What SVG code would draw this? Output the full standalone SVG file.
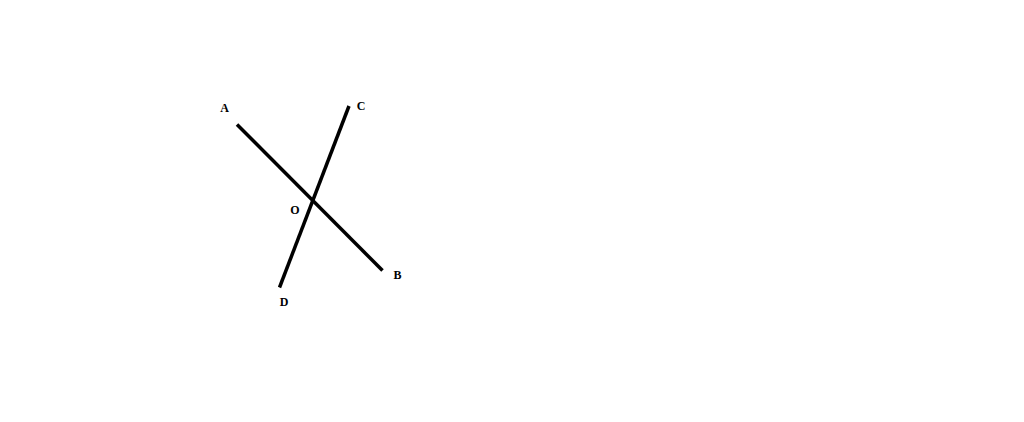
<svg xmlns="http://www.w3.org/2000/svg" width="1024" height="422" viewBox="0 0 1024 422">
<style>
.ln{stroke:#000;stroke-width:3.5;stroke-linecap:butt;fill:none}
.lb{font-family:"Liberation Serif",serif;font-weight:bold;font-size:12px;fill:#000;text-anchor:middle}
</style>
<rect width="1024" height="422" fill="#fff"/>
<g id="connectors">
<line id="AB" class="ln" x1="237" y1="124.5" x2="382.5" y2="270.5"/>
<line id="CD" class="ln" x1="349" y1="106" x2="279.5" y2="287.5"/>
</g>
<g id="A"><text class="lb" x="224.5" y="111.5">A</text></g>
<g id="B"><text class="lb" x="397.5" y="279">B</text></g>
<g id="C"><text class="lb" x="361" y="109.5">C</text></g>
<g id="D"><text class="lb" x="284" y="305.5">D</text></g>
<g id="O"><text class="lb" x="295" y="213.5">O</text></g>
</svg>
